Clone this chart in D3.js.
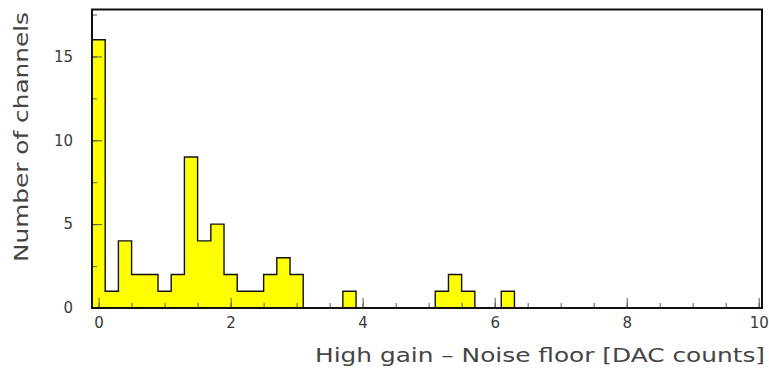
<!DOCTYPE html>
<html>
<head>
<meta charset="utf-8">
<script src="https://cdn.jsdelivr.net/npm/d3@7"></script>
<style>
  html, body { margin: 0; padding: 0; background: #fff; }
  svg { display: block; }
</style>
</head>
<body>
<svg id="chart" width="769" height="375"></svg>
<script>
// Histogram: channel count per 0.2-wide bin of (high gain − noise floor)
const binLow = -0.1;
const binWidth = 0.2;
const counts = [
  16, 1, 4, 2, 2, 1, 2, 9, 4, 5,
  2, 1, 1, 2, 3, 2, 0, 0, 0, 1,
  0, 0, 0, 0, 0, 0, 1, 2, 1, 0,
  0, 1, 0, 0, 0, 0, 0, 0, 0, 0,
  0, 0, 0, 0, 0, 0, 0, 0, 0, 0,
  0
];
const xMajorTicks = [0, 2, 4, 6, 8, 10];
const xMinorTicks = [0, 0.5, 1, 1.5, 2, 2.5, 3, 3.5, 4, 4.5, 5, 5.5, 6, 6.5, 7, 7.5, 8, 8.5, 9, 9.5, 10];
const yMajorTicks = [0, 5, 10, 15];
const yMinorTicks = [0, 2.5, 5, 7.5, 10, 12.5, 15, 17.5];
const xTitle = "High gain \u2013 Noise floor [DAC counts]";
const yTitle = "Number of channels";

const svg = d3.select("#chart");
const plotL = 92, plotR = 762, plotT = 9.5, plotB = 308;

const x = d3.scaleLinear().domain([-0.1, 10.05]).range([plotL, plotR]);
const y = d3.scaleLinear().domain([0, 17.8]).range([plotB, plotT]);

// bin edges and step points
const edges = counts.map((c, i) => binLow + i * binWidth);
const stepPts = counts.map((c, i) => [edges[i], c]);
stepPts.push([binLow + counts.length * binWidth, counts[counts.length - 1]]);

svg.append("clipPath").attr("id", "plotclip")
  .append("rect").attr("x", plotL).attr("y", plotT).attr("width", plotR - plotL).attr("height", plotB - plotT);

const g = svg.append("g").attr("clip-path", "url(#plotclip)");

const area = d3.area()
  .x(d => x(d[0])).y0(y(0)).y1(d => y(d[1]))
  .curve(d3.curveStepAfter);
g.append("path").datum(stepPts)
  .attr("d", area)
  .attr("fill", "#ffff00")
  .attr("stroke", "none");

const outlinePts = [[stepPts[0][0], 0], ...stepPts, [stepPts[stepPts.length - 1][0], 0]];
const line = d3.line().x(d => x(d[0])).y(d => y(d[1])).curve(d3.curveStepAfter);
g.append("path").datum(outlinePts)
  .attr("d", line)
  .attr("fill", "none")
  .attr("stroke", "#111")
  .attr("stroke-width", 1.4);

// axes
const textColor = "#3a3a3a";
const font = "'DejaVu Sans', 'Liberation Sans', sans-serif";

const xMinor = d3.axisBottom(x).tickValues(xMinorTicks).tickSizeInner(-5).tickSizeOuter(0).tickFormat("");
const xMajor = d3.axisBottom(x).tickValues(xMajorTicks).tickSizeInner(-10).tickSizeOuter(0).tickPadding(9.5).tickFormat(d3.format("d"));
const yMinor = d3.axisLeft(y).tickValues(yMinorTicks).tickSizeInner(-5).tickSizeOuter(0).tickFormat("");
const yMajor = d3.axisLeft(y).tickValues(yMajorTicks).tickSizeInner(-10).tickSizeOuter(0).tickPadding(19).tickFormat(d3.format("d"));

function styleAxis(sel) {
  sel.select(".domain").remove();
  sel.selectAll(".tick line").attr("stroke", "#555").attr("stroke-width", 1);
  sel.selectAll(".tick text").attr("fill", textColor).style("font-family", font).style("font-size", "15px");
}

svg.append("g").attr("transform", `translate(0,${plotB})`).call(xMinor).call(styleAxis);
svg.append("g").attr("transform", `translate(0,${plotB})`).call(xMajor).call(styleAxis);
svg.append("g").attr("transform", `translate(${plotL},0)`).call(yMinor).call(styleAxis);
svg.append("g").attr("transform", `translate(${plotL},0)`).call(yMajor).call(styleAxis);

// frame
svg.append("rect")
  .attr("x", plotL).attr("y", plotT)
  .attr("width", plotR - plotL).attr("height", plotB - plotT)
  .attr("fill", "none").attr("stroke", "#111").attr("stroke-width", 2);

// titles
svg.append("text")
  .attr("x", 765).attr("y", 362)
  .attr("text-anchor", "end")
  .attr("textLength", 450).attr("lengthAdjust", "spacingAndGlyphs")
  .attr("fill", "#444")
  .style("font-family", font).style("font-size", "20px")
  .text(xTitle);

svg.append("text")
  .attr("transform", "translate(28,12) rotate(-90)")
  .attr("text-anchor", "end")
  .attr("textLength", 250).attr("lengthAdjust", "spacingAndGlyphs")
  .attr("fill", "#444")
  .style("font-family", font).style("font-size", "20px")
  .text(yTitle);
</script>
</body>
</html>
